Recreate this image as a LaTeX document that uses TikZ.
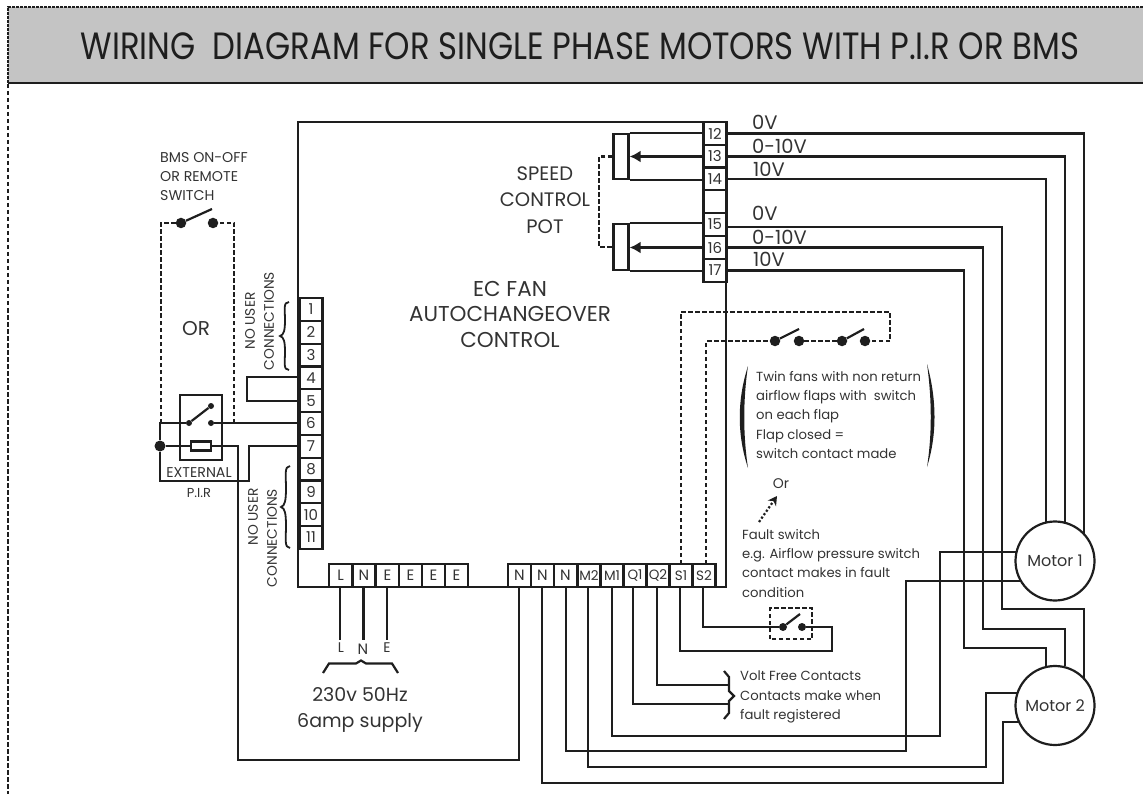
\documentclass[tikz,border=0pt]{standalone}
\usepackage{fontspec}
\setmainfont{Poppins}
\usetikzlibrary{arrows.meta}
\definecolor{ink}{HTML}{1E1E1E}
\definecolor{txt}{HTML}{333333}
\definecolor{band}{HTML}{C4C4C4}
\newcommand{\tightlab}[1]{\fontsize{13.5}{13.5}\selectfont #1}
\tikzset{
 wire/.style={draw=ink,line width=2.2pt,line join=miter},
 dash wire/.style={draw=ink,line width=2.2pt,dash pattern=on 4.5pt off 2.5pt},
 cell/.style={draw=ink,line width=2.2pt,fill=white,minimum width=23pt,minimum height=23pt,inner sep=0pt,text=txt,font=\fontsize{15}{15}\selectfont},
 lab/.style={text=txt,inner sep=0pt},
 big/.style={lab,align=center,font=\fontsize{19.5}{26.5}\selectfont},
 small/.style={lab,align=left,font=\fontsize{13.2}{19.3}\selectfont},
 small caps/.style={lab,align=left,font=\fontsize{14.2}{19}\selectfont},
 rot/.style={lab,rotate=90,font=\fontsize{13.8}{13.8}\selectfont},
 volt/.style={lab,anchor=west,font=\fontsize{19.5}{19.5}\selectfont},
 motor/.style={circle,draw=ink,line width=2.2pt,fill=white,minimum size=79pt,inner sep=0pt,text=txt,font=\fontsize{16}{16}\selectfont},
 dot/.style={circle,fill=ink,inner sep=0pt,minimum size=#1},
 dot/.default=10.5pt,
}
\begin{document}
\begin{tikzpicture}[x=1pt,y=-1pt]
\useasboundingbox (0,0) rectangle (1143,794);
% title band
\path[fill=band] (8,7) rectangle (1143,83);
\draw[ink,line width=1.4pt,dash pattern=on 3pt off 1pt] (1143,7) -- (8,7) -- (8,83);
\draw[ink,line width=2.4pt] (8,83) -- (1143,83);
\draw[dash wire] (8,84) -- (8,794);
\node[lab,text=ink,xscale=0.85] (title) at (580,46.5) {\fontsize{38}{38}\selectfont WIRING\ \ DIAGRAM FOR SINGLE PHASE MOTORS WITH P.I.R OR BMS};
% main box
\draw[wire] (298,549) -- (298,122) -- (726,122) -- (726,587) -- (298,587) -- cycle;
% right terminals
\foreach \n/\t/\y in {t12/12/133.5,t13/13/156.5,t14/14/179,tx//201.5,t15/15/224.5,t16/16/247.5,t17/17/270.5}
  \node[cell] (\n) at (715,\y) {\t};
% left terminals
\foreach \i in {1,...,11}{
  \pgfmathsetmacro{\yy}{298+22.8*(\i-0.5)}
  \node[cell,minimum height=22.8pt] (a\i) at (311,\yy) {\i};
}
% bottom terminals
\foreach \n/\t/\x in {bL/L/340.5,bN/N/364,bE/E/387.5,bEb/E/410.5,bEc/E/433.5,bEd/E/456.5,
 cNa/N/519.5,cNb/N/542.5,cNc/N/565.5}
  \node[cell] (\n) at (\x,575.5) {\t};
\foreach \n/\t/\x in {cMb/M2/589,cMa/M1/612,cQa/Q1/635,cQb/Q2/658,cSa/S1/681,cSb/S2/704}
  \node[cell] (\n) at (\x,575.5) {\tightlab{\t}};
% pots
\node[draw=ink,line width=2.2pt,minimum width=15pt,minimum height=45pt,inner sep=0pt] (pa) at (621,156.5) {};
\node[draw=ink,line width=2.2pt,minimum width=15pt,minimum height=46pt,inner sep=0pt] (pb) at (621,247) {};
\draw[wire] (pa.north east) -- (t12.west |- pa.north east);
\draw[wire] (pa.south east) -- (t14.west |- pa.south east);
\draw[wire] (pb.north east) -- (t15.west |- pb.north east);
\draw[wire] (pb.south east) -- (t17.west |- pb.south east);
\draw[wire,-{Latex[length=11pt,width=12pt]}] (t13.west) -- (t13.west -| pa.east);
\draw[wire,-{Latex[length=11pt,width=12pt]}] (t16.west) -- (t16.west -| pb.east);
\draw[dash wire] (pa.west) -- (599,156.5) -- (599,247) -- (pb.west);
% speed wires
\draw[wire] (t12.east) -- (1084,133.5) -- (1084,535);
\draw[wire] (t13.east) -- (1065,156.5) -- (1065,522);
\draw[wire] (t14.east) -- (1046,179) -- (1046,522);
\draw[wire] (726,227) -- (1002,227) -- (1002,609) -- (1084,609) -- (1084,680);
\draw[wire] (t16.east) -- (983,247.5) -- (983,629) -- (1065,629) -- (1065,666);
\draw[wire] (t17.east) -- (964,270.5) -- (964,648) -- (1046,648) -- (1046,666);
% motor left wires
\draw[wire] (612,587) -- (612,736) -- (940,736) -- (940,552) -- (1016,552);
\draw[wire] (566,587) -- (566,751) -- (906,751) -- (906,581) -- (1021,581);
\draw[wire] (588,587) -- (588,767) -- (986,767) -- (986,693) -- (1017,693);
\draw[wire] (542,587) -- (542,783) -- (1003,783) -- (1003,722) -- (1020,722);
% motors
\node[motor] (M1) at (1055,561) {Motor 1};
\node[motor] (M2) at (1055,705.5) {Motor 2};
% N to resistor
\draw[wire] (519,587) -- (519,760) -- (238,760) -- (238,446) -- (212,446);
% supply
\draw[wire] (340,587) -- (340,640);
\draw[wire] (363.5,587) -- (363.5,640);
\draw[wire] (387,587) -- (387,640);
\node[lab,font=\fontsize{14}{14}\selectfont] (lL) at (341,648) {L};
\node[lab,font=\fontsize{15}{15}\selectfont] (lN) at (363,649) {N};
\node[lab,font=\fontsize{14}{14}\selectfont] (lE) at (387,648) {E};
\draw[wire] (323,673) -- (329,663.5) -- (356,663.5) -- (361,660.5) -- (366,663.5) -- (392,663.5) -- (398,673);
\node[lab,align=center,font=\fontsize{19}{26}\selectfont] (sup) at (360,710) {230v 50Hz\\6amp supply};
% S wires and fault switch
\node[dot=8pt] (fa) at (783,627) {};
\node[dot=8pt] (fb) at (802,627) {};
\draw[wire] (703,587) -- (703,627) -- (fa);
\draw[wire] (fb) -- (832,627) -- (832,651) -- (680,651) -- (680,587);
\draw[wire] (fa) -- (800,614);
\draw[dash wire] (770,639) -- (770,608) -- (812,608) -- (812,639) -- cycle;
% Q wires
\draw[wire] (657,587) -- (657,685) -- (729,685);
\draw[wire] (633,587) -- (633,704) -- (729,704);
\draw[wire] (724,671) -- (729,677) -- (729,691) -- (734,696) -- (729,701) -- (729,713) -- (724,719);
\node[small,anchor=north west] (vf) at (740,671) {Volt Free Contacts\\Contacts make when\\fault registered};
% flap dashed
\node[dot] (sa) at (775,341) {};
\node[dot] (sb) at (799,341) {};
\node[dot] (sc) at (842,341) {};
\node[dot] (sd) at (865,341) {};
\draw[wire] (sa) -- (799,329);
\draw[wire] (sc) -- (864,329);
\draw[dash wire] (681,564) -- (681,312) -- (890,312) -- (890,341) -- (sd);
\draw[dash wire] (706,564) -- (706,341) -- (sa);
\draw[dash wire] (sb) -- (sc);
% parens
\fill[ink] (748,366) .. controls (737,400) and (737,435) .. (748,468) .. controls (743,435) and (743,400) .. (748,366);
\fill[ink] (927,364) .. controls (937,400) and (937,435) .. (927,467) .. controls (932,435) and (932,400) .. (927,364);
\node[small,anchor=north west] (tw) at (756,371) {Twin fans with non return\\airflow flaps with\ \ switch\\on each flap\\Flap closed =\\switch contact made};
\node[small,anchor=north west] (fs) at (742,529) {Fault switch\\e.g. Airflow pressure switch\\contact makes in fault\\condition};
\node[lab,font=\fontsize{14}{14}\selectfont] (orb) at (781,484) {Or};
\coordinate (oa) at (759,522);
\coordinate (ob) at (777,496);
\draw[ink,line width=2.2pt,dotted,-{Stealth[length=9pt,width=10pt]}] (oa) -- (ob);
% volts
\node[volt] (va) at (752,122) {0V};
\node[volt] (vb) at (752,146) {0-10V};
\node[volt] (vc) at (753,169) {10V};
\node[volt] (vd) at (752,213) {0V};
\node[volt] (ve) at (752,237) {0-10V};
\node[volt] (vg) at (753,259) {10V};
\node[big] (speed) at (545,200) {SPEED\\CONTROL\\POT};
\node[big,font=\fontsize{21.5}{25.5}\selectfont] (ec) at (510,314) {EC FAN\\AUTOCHANGEOVER\\CONTROL};
% left part
\node[lab,font=\fontsize{20}{20}\selectfont] (or) at (196,329) {OR};
\node[small caps,anchor=north west] (bms) at (160,152) {BMS ON-OFF\\OR REMOTE\\SWITCH};
\node[dot] (ra) at (181,223) {};
\node[dot] (rb) at (213,223) {};
\draw[wire] (ra) -- (212,209);
\draw[dash wire] (161,423) -- (161,223) -- (ra);
\draw[dash wire] (234,423) -- (234,223) -- (rb);
% PIR
\node[draw=ink,line width=2.2pt,minimum width=42pt,minimum height=65pt,inner sep=0pt] (pir) at (201,427.5) {};
\node[dot=6pt] (ca) at (189,423) {};
\node[dot=6pt] (cb) at (211,423) {};
\node[dot=6pt] (cc) at (211,406) {};
\draw[wire] (ca) -- (cc);
\node[dot=11pt] (j) at (160,446) {};
\node[draw=ink,line width=2.2pt,minimum width=20pt,minimum height=9pt,inner sep=0pt,fill=white] (res) at (201,446) {};
\draw[wire] (j) -- (res);
\draw[wire] (298,423) -- (cb);
\draw[wire] (ca) -- (160,423) -- (j);
\draw[wire] (j) -- (160,481) -- (249,481) -- (249,446) -- (298,446);
\draw[wire] (298,377) -- (247,377) -- (247,401) -- (298,401);
\node[lab,font=\fontsize{14.2}{14.2}\selectfont] (ext) at (199,473) {EXTERNAL};
\node[lab,font=\fontsize{13}{13}\selectfont] (ppir) at (199,493) {P.I.R};
\node[rot] (nua) at (250,321) {NO USER};
\node[rot] (nuc) at (269,321) {CONNECTIONS};
\node[rot] (nub) at (253,517) {NO USER};
\node[rot] (nud) at (272,538) {CONNECTIONS};
\draw[ink,line width=1.8pt] (289,302) .. controls (283,302) and (285,310) .. (285,320) .. controls (285,330) and (284,335) .. (280,336) .. controls (284,337) and (285,342) .. (285,352) .. controls (285,362) and (283,370) .. (289,370);
\draw[ink,line width=1.8pt] (290,466) .. controls (284,466) and (286,476) .. (286,488) .. controls (286,500) and (285,506) .. (281,507) .. controls (285,508) and (286,514) .. (286,526) .. controls (286,538) and (284,548) .. (290,548);
\end{tikzpicture}
\end{document}
